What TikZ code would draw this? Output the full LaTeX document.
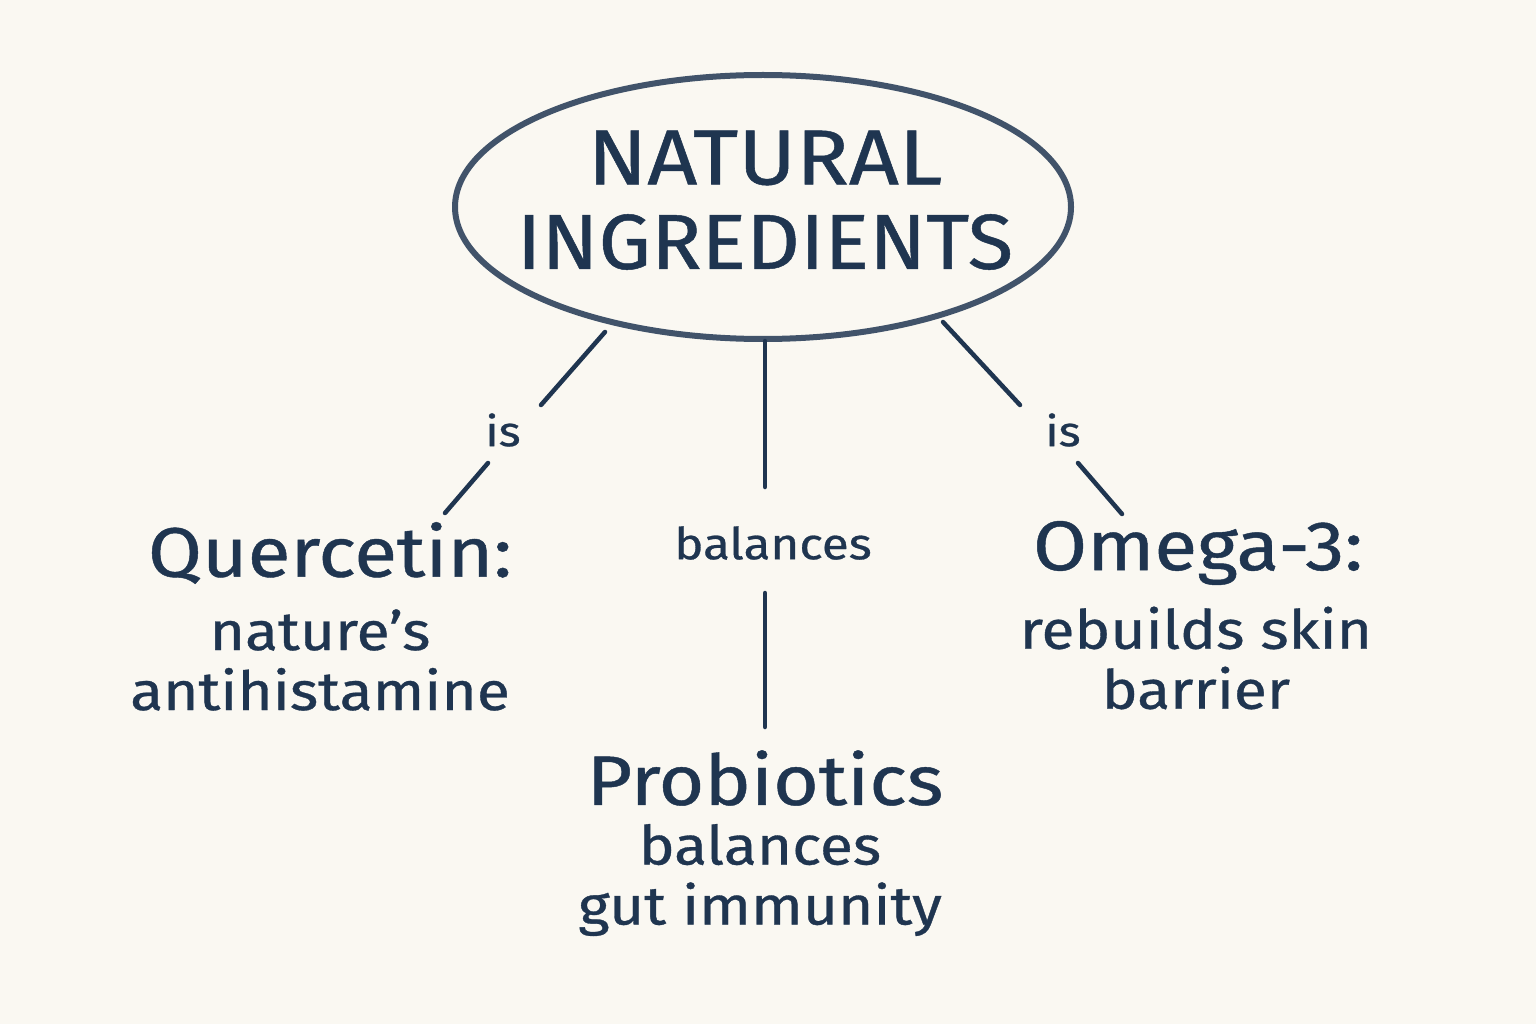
\documentclass[tikz,border=0pt]{standalone}
\usepackage{fontspec}
\setmainfont[FakeBold=0.6]{Fira Sans}
\begin{document}
\begin{tikzpicture}[x=1pt,y=-1pt,
  ink/.style={draw=inkc,line width=4.5pt,line cap=round},
  txt/.style={text=inkc,align=center,inner sep=0pt,xscale=1.12}]
\definecolor{inkc}{HTML}{1F3550}
\definecolor{bg}{HTML}{FAF8F2}
\fill[bg] (0,0) rectangle (1536,1024);
\useasboundingbox (0,0) rectangle (1536,1024);
\draw[draw=inkc!85!white,line width=6pt] (763,207) ellipse [x radius=308,y radius=132];
\node[txt,font=\fontsize{78}{78}\selectfont] (n1) at (765,158) {NATURAL};
\node[txt,xscale=0.955,font=\fontsize{78}{78}\selectfont] (n2) at (765,242) {INGREDIENTS};
\coordinate (l1) at (605,332); \coordinate (l2) at (541,405);
\coordinate (l3) at (488,463); \coordinate (l4) at (445,513);
\coordinate (m1) at (765,341); \coordinate (m2) at (765,487);
\coordinate (m3) at (765,593); \coordinate (m4) at (765,727);
\coordinate (r1) at (943,322); \coordinate (r2) at (1020,405);
\coordinate (r3) at (1078,463); \coordinate (r4) at (1122,514);
\draw[ink] (l1)--(l2); \draw[ink] (l3)--(l4);
\draw[ink] (m1)--(m2); \draw[ink] (m3)--(m4);
\draw[ink] (r1)--(r2); \draw[ink] (r3)--(r4);
\node[txt,font=\fontsize{42}{42}\selectfont] (is1) at (503,430) {is};
\node[txt,font=\fontsize{42}{42}\selectfont] (is2) at (1063,430) {is};
\node[txt,font=\fontsize{44}{44}\selectfont] (bal) at (773,543) {balances};
\node[txt,font=\fontsize{70}{70}\selectfont] (q) at (330,553) {Quercetin:};
\node[txt,font=\fontsize{54}{60}\selectfont] (q2) at (320,660) {nature’s\\antihistamine};
\node[txt,font=\fontsize{70}{70}\selectfont] (p) at (765,778) {Probiotics};
\node[txt,font=\fontsize{54}{60}\selectfont] (p2) at (760,880) {balances\\gut immunity};
\node[txt,font=\fontsize{70}{70}\selectfont] (o) at (1198,553) {Omega-3:};
\node[txt,font=\fontsize{54}{60}\selectfont] (o2) at (1196,658) {rebuilds skin\\barrier};
\end{tikzpicture}
\end{document}
